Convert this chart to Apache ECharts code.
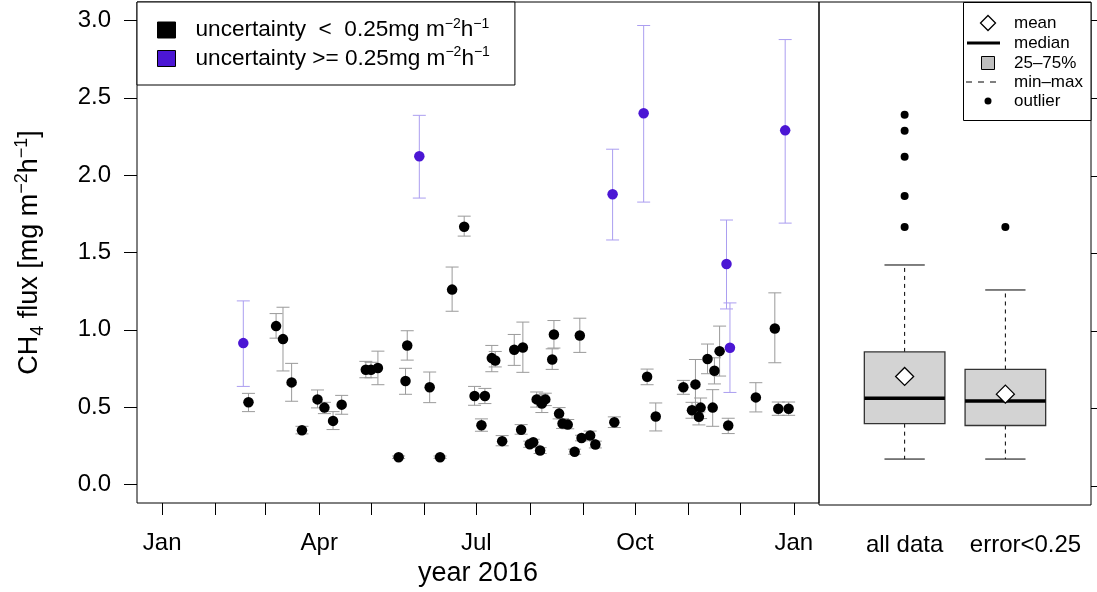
<!DOCTYPE html>
<html><head><meta charset="utf-8">
<script src="https://cdn.jsdelivr.net/npm/echarts@6/dist/echarts.min.js"></script>
<style>html,body{margin:0;padding:0;background:#fff}#c{width:1097px;height:592px}</style>
</head><body><div id="c"></div>
<script>
const FONT = '"Liberation Sans", Arial, sans-serif';

// samples with uncertainty < 0.25
const lowDates = ['2016-02-20','2016-03-07','2016-03-11','2016-03-16','2016-03-22','2016-03-31','2016-04-04','2016-04-09','2016-04-14','2016-04-28',
  '2016-05-01','2016-05-05','2016-05-17','2016-05-21','2016-05-22','2016-06-04','2016-06-10','2016-06-17','2016-06-24','2016-06-30',
  '2016-07-04','2016-07-06','2016-07-10','2016-07-12','2016-07-16','2016-07-23','2016-07-27','2016-07-28','2016-08-01','2016-08-03',
  '2016-08-05','2016-08-07','2016-08-08','2016-08-10','2016-08-14','2016-08-15','2016-08-18','2016-08-20','2016-08-23','2016-08-27',
  '2016-08-30','2016-08-31','2016-09-05','2016-09-08','2016-09-19','2016-10-08','2016-10-13','2016-10-29','2016-11-03','2016-11-05',
  '2016-11-07','2016-11-08','2016-11-12','2016-11-15','2016-11-16','2016-11-19','2016-11-24','2016-12-10','2016-12-21','2016-12-23','2016-12-29'];
const lowFlux = [0.531,1.024,0.940,0.660,0.350,0.550,0.497,0.411,0.516,0.742,
  0.742,0.753,0.176,0.669,0.899,0.628,0.176,1.260,1.666,0.572,
  0.383,0.572,0.817,0.802,0.280,0.871,0.354,0.886,0.260,0.273,
  0.550,0.219,0.523,0.550,0.808,0.970,0.458,0.394,0.387,0.211,
  0.963,0.300,0.317,0.258,0.402,0.696,0.439,0.628,0.480,0.647,
  0.437,0.497,0.811,0.497,0.735,0.862,0.381,0.563,1.008,0.490,0.490];
const lowErrLo = [0.471,0.946,0.734,0.538,0.327,0.495,0.458,0.355,0.454,0.690,
  0.690,0.645,0.168,0.583,0.804,0.529,0.168,1.120,1.606,0.512,
  0.344,0.523,0.729,0.760,0.250,0.770,0.325,0.725,0.240,0.255,
  0.500,0.200,0.465,0.510,0.744,0.882,0.424,0.362,0.360,0.195,
  0.854,0.282,0.290,0.236,0.368,0.645,0.346,0.583,0.428,0.482,
  0.385,0.426,0.716,0.376,0.650,0.701,0.329,0.469,0.787,0.447,0.447];
const lowErrHi = [0.589,1.105,1.146,0.783,0.376,0.611,0.531,0.471,0.576,0.796,
  0.790,0.862,0.184,0.751,0.994,0.727,0.184,1.406,1.735,0.634,
  0.424,0.621,0.899,0.860,0.316,0.970,0.387,1.050,0.280,0.292,
  0.598,0.238,0.580,0.590,0.877,1.060,0.497,0.425,0.420,0.228,
  1.075,0.318,0.345,0.280,0.437,0.746,0.527,0.673,0.531,0.808,
  0.469,0.559,0.908,0.613,0.819,1.024,0.428,0.658,1.239,0.533,0.533];

// samples with uncertainty >= 0.25
const highDates = ['2016-02-17','2016-05-29','2016-09-18','2016-10-06','2016-11-23','2016-11-25','2016-12-27'];
const highFlux = [0.914,2.123,1.877,2.400,1.426,0.884,2.290];
const highErrLo = [0.634,1.852,1.581,1.826,1.135,0.595,1.690];
const highErrHi = [1.187,2.387,2.168,2.968,1.710,1.174,2.877];

// axis ticks / labels
const monthTickDates = ['2016-01-01','2016-02-01','2016-03-01','2016-04-01','2016-05-01','2016-06-01','2016-07-01',
  '2016-08-01','2016-09-01','2016-10-01','2016-11-01','2016-12-01','2017-01-01'];
const monthLabelDates = ['2016-01-01','2016-04-01','2016-07-01','2016-10-01','2017-01-01'];
const monthLabelNames = ['Jan','Apr','Jul','Oct','Jan'];
const yTicks = [0, 0.5, 1, 1.5, 2, 2.5, 3];

// box plot summary
const boxCategories = ['all data', 'error<0.25'];
const boxStats = [[0.176, 0.404, 0.568, 0.866, 1.426], [0.176, 0.392, 0.550, 0.753, 1.265]]; // min,q1,median,q3,max
const boxMeans = [0.708, 0.594];
const boxOutliers = [[2.394, 2.290, 2.123, 1.871, 1.671], [1.671]];

const LOW_NAME = 'uncertainty < 0.25';
const HIGH_NAME = 'uncertainty >= 0.25';

const DAY0 = Date.parse('2016-01-01');
const dayOf = s => (Date.parse(s) - DAY0) / 864e5;

const lowData = lowDates.map((d, i) => [dayOf(d), lowFlux[i], lowErrLo[i], lowErrHi[i]]);
const highData = highDates.map((d, i) => [dayOf(d), highFlux[i], highErrLo[i], highErrHi[i]]);
const tickDays = monthTickDates.map(dayOf);
const labelDays = monthLabelDates.map(dayOf);

function errorBar(color) {
  return function (params, api) {
    const x = api.value(0), lo = api.value(2), hi = api.value(3);
    const a = api.coord([x, lo]), b = api.coord([x, hi]);
    const hw = 6.5;
    const st = { stroke: color, lineWidth: 1, fill: null };
    return { type: 'group', children: [
      { type: 'line', shape: { x1: a[0], y1: a[1], x2: b[0], y2: b[1] }, style: st },
      { type: 'line', shape: { x1: a[0] - hw, y1: a[1], x2: a[0] + hw, y2: a[1] }, style: st },
      { type: 'line', shape: { x1: b[0] - hw, y1: b[1], x2: b[0] + hw, y2: b[1] }, style: st }
    ]};
  };
}

function boxItem(params, api) {
  const x = api.value(0);
  const mn = api.value(1), q1 = api.value(2), md = api.value(3), q3 = api.value(4), mx = api.value(5);
  const L = api.coord([x - 0.4, q3]), R = api.coord([x + 0.4, q1]);
  const c = api.coord([x, md]);
  const pMin = api.coord([x, mn]), pMax = api.coord([x, mx]), pQ1 = api.coord([x, q1]), pQ3 = api.coord([x, q3]);
  const capL = api.coord([x - 0.2, mn])[0], capR = api.coord([x + 0.2, mn])[0];
  const dash = { stroke: '#000', lineWidth: 1, lineDash: [4, 4], fill: null };
  const solid = { stroke: '#000', lineWidth: 1, fill: null };
  return { type: 'group', children: [
    { type: 'line', shape: { x1: pQ3[0], y1: pQ3[1], x2: pMax[0], y2: pMax[1] }, style: dash },
    { type: 'line', shape: { x1: pQ1[0], y1: pQ1[1], x2: pMin[0], y2: pMin[1] }, style: dash },
    { type: 'line', shape: { x1: capL, y1: pMax[1], x2: capR, y2: pMax[1] }, style: solid },
    { type: 'line', shape: { x1: capL, y1: pMin[1], x2: capR, y2: pMin[1] }, style: solid },
    { type: 'rect', shape: { x: L[0], y: L[1], width: R[0] - L[0], height: R[1] - L[1] },
      style: { fill: '#d3d3d3', stroke: '#333', lineWidth: 1.3 } },
    { type: 'line', shape: { x1: L[0], y1: c[1], x2: R[0], y2: c[1] }, style: { stroke: '#000', lineWidth: 3.5 } }
  ]};
}

const boxData = boxStats.map((s, i) => [i + 1].concat(s));
const meanData = boxMeans.map((m, i) => [i + 1, m]);
const outlierData = [];
boxOutliers.forEach((arr, i) => arr.forEach(v => outlierData.push([i + 1, v])));

const legendRich = {
  p: { fontSize: 22.6, lineHeight: 26, padding: [0, 0, 0, 15], fontFamily: FONT, color: '#000' },
  t: { fontSize: 22.6, lineHeight: 26, fontFamily: FONT, color: '#000' },
  s: { fontSize: 14, lineHeight: 14, verticalAlign: 'top', fontFamily: FONT, color: '#000' }
};

const chart = echarts.init(document.getElementById('c'), null, { renderer: 'canvas' });

const boxLegendRows = [
  { label: 'mean', y: 23 }, { label: 'median', y: 43 }, { label: '25–75%', y: 63 },
  { label: 'min–max', y: 82 }, { label: 'outlier', y: 101 }
];

chart.setOption({
  animation: false,
  backgroundColor: '#fff',
  textStyle: { fontFamily: FONT },
  grid: [
    { left: 137, top: 2, width: 682, height: 503, show: true, borderColor: '#000', borderWidth: 1, backgroundColor: 'transparent' },
    { left: 819, top: 2, width: 272, height: 503, show: true, borderColor: '#000', borderWidth: 1, backgroundColor: 'transparent' }
  ],
  xAxis: [
    { type: 'value', gridIndex: 0, min: -14.6, max: 380.6,
      axisLine: { show: false, onZero: false }, splitLine: { show: false },
      axisTick: { show: true, length: 12, lineStyle: { color: '#000' }, customValues: tickDays },
      axisLabel: { show: true, fontSize: 24, color: '#000', margin: 28, fontFamily: FONT, customValues: labelDays,
        formatter: v => { const k = labelDays.indexOf(v); return k >= 0 ? monthLabelNames[k] : ''; } },
      name: 'year 2016', nameLocation: 'middle', nameGap: 57,
      nameTextStyle: { fontSize: 27, color: '#000', fontFamily: FONT } },
    { type: 'value', gridIndex: 1, min: 0.15, max: 2.85,
      axisLine: { show: false, onZero: false }, splitLine: { show: false }, axisTick: { show: false },
      axisLabel: { show: true, fontSize: 24, color: '#000', margin: 28, fontFamily: FONT, customValues: [1, 2.2],
        formatter: v => v < 1.5 ? boxCategories[0] : boxCategories[1] } }
  ],
  yAxis: [
    { type: 'value', gridIndex: 0, min: -0.12, max: 3.12, position: 'left',
      axisLine: { show: false, onZero: false }, splitLine: { show: false },
      axisTick: { show: true, length: 13, lineStyle: { color: '#000' }, customValues: yTicks },
      axisLabel: { show: true, fontSize: 24, color: '#000', margin: 26, fontFamily: FONT, customValues: yTicks,
        formatter: v => v.toFixed(1) },
      name: '{t|CH}{sub|4}{t| flux [mg m}{sup|−2}{t|h}{sup|−1}{t|]}',
      nameLocation: 'middle', nameRotate: 90, nameGap: 90,
      nameTextStyle: { fontSize: 27, color: '#000', fontFamily: FONT,
        rich: {
          t: { fontSize: 27, lineHeight: 34, fontFamily: FONT, color: '#000' },
          sub: { fontSize: 18, lineHeight: 18, verticalAlign: 'bottom', fontFamily: FONT, color: '#000' },
          sup: { fontSize: 18, lineHeight: 18, verticalAlign: 'top', fontFamily: FONT, color: '#000' }
        } } },
    { type: 'value', gridIndex: 1, min: -0.12, max: 3.12, position: 'right',
      axisLine: { show: false, onZero: false }, splitLine: { show: false },
      axisTick: { show: true, length: 6, lineStyle: { color: '#000' }, customValues: yTicks },
      axisLabel: { show: false } }
  ],
  legend: {
    left: 137, top: 2, orient: 'vertical',
    padding: [15, 25, 15, 20], itemGap: 4, itemWidth: 18, itemHeight: 16,
    borderColor: '#000', borderWidth: 1, backgroundColor: '#fff',
    icon: 'rect', itemStyle: { borderColor: '#000', borderWidth: 1 },
    data: [LOW_NAME, HIGH_NAME],
    textStyle: { fontSize: 22.6, color: '#000', fontFamily: FONT, rich: legendRich },
    formatter: name => name === LOW_NAME
      ? '{p|uncertainty  <  0.25mg m}{s|−2}{t|h}{s|−1}'
      : '{p|uncertainty >= 0.25mg m}{s|−2}{t|h}{s|−1}'
  },
  series: [
    { type: 'custom', name: 'err-low', xAxisIndex: 0, yAxisIndex: 0, data: lowData,
      encode: { x: 0, y: [1, 2, 3] }, renderItem: errorBar('#9a9a9a'), z: 1, silent: true },
    { type: 'custom', name: 'err-high', xAxisIndex: 0, yAxisIndex: 0, data: highData,
      encode: { x: 0, y: [1, 2, 3] }, renderItem: errorBar('#ab9ef0'), z: 1, silent: true },
    { type: 'scatter', name: LOW_NAME, xAxisIndex: 0, yAxisIndex: 0, data: lowData,
      encode: { x: 0, y: 1 }, symbol: 'circle', symbolSize: 10.5, itemStyle: { color: '#000', opacity: 1 }, z: 3 },
    { type: 'scatter', name: HIGH_NAME, xAxisIndex: 0, yAxisIndex: 0, data: highData,
      encode: { x: 0, y: 1 }, symbol: 'circle', symbolSize: 10.5, itemStyle: { color: '#4b16d4', opacity: 1 }, z: 3 },
    { type: 'custom', name: 'box', xAxisIndex: 1, yAxisIndex: 1, data: boxData,
      encode: { x: 0, y: [1, 2, 3, 4, 5] }, renderItem: boxItem, z: 2, silent: true },
    { type: 'scatter', name: 'mean', xAxisIndex: 1, yAxisIndex: 1, data: meanData,
      symbol: 'diamond', symbolSize: 18, itemStyle: { color: '#fff', borderColor: '#000', borderWidth: 1.3, opacity: 1 }, z: 4 },
    { type: 'scatter', name: 'outlier', xAxisIndex: 1, yAxisIndex: 1, data: outlierData,
      symbol: 'circle', symbolSize: 8, itemStyle: { color: '#000', opacity: 1 }, z: 4 }
  ],
  graphic: [
    { type: 'group', z: 100, children: [
      { type: 'rect', shape: { x: 963.5, y: 2.5, width: 127.5, height: 118 }, style: { fill: '#fff', stroke: '#000', lineWidth: 1 } },
      { type: 'polygon', shape: { points: [[988, 15.5], [995.5, 23], [988, 30.5], [980.5, 23]] }, style: { fill: '#fff', stroke: '#000', lineWidth: 1.3 } },
      { type: 'line', shape: { x1: 967, y1: 43, x2: 1000, y2: 43 }, style: { stroke: '#000', lineWidth: 3 } },
      { type: 'rect', shape: { x: 981.5, y: 56.5, width: 13, height: 13 }, style: { fill: '#bebebe', stroke: '#000', lineWidth: 1 } },
      { type: 'line', shape: { x1: 966, y1: 82, x2: 1000, y2: 82 }, style: { stroke: '#000', lineWidth: 1, lineDash: [6, 6] } },
      { type: 'circle', shape: { cx: 988, cy: 101, r: 3.5 }, style: { fill: '#000' } }
    ].concat(boxLegendRows.map(r => ({
      type: 'text', x: 1014, y: r.y,
      style: { text: r.label, fontSize: 17, fontFamily: FONT, fill: '#000', verticalAlign: 'middle', align: 'left' }
    }))) }
  ]
});
</script>
</body></html>
